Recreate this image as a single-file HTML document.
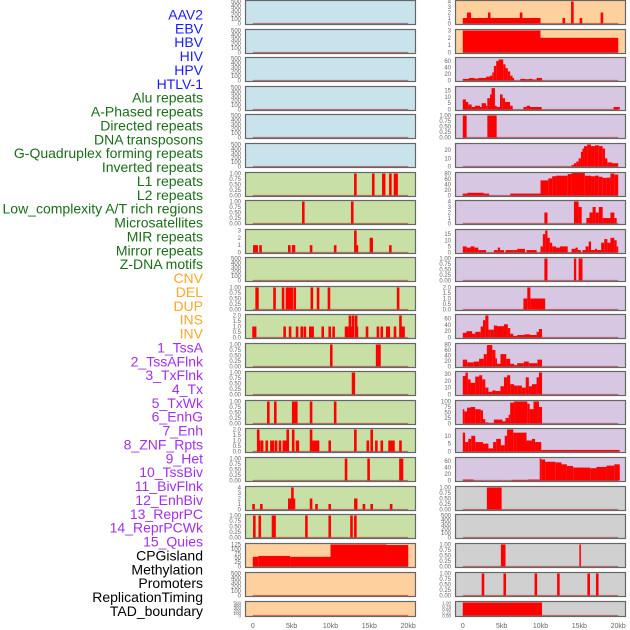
<!DOCTYPE html>
<html><head><meta charset="utf-8"><style>
html,body{margin:0;padding:0;background:#fff;width:630px;height:630px;overflow:hidden}
svg{display:block}
</style></head><body>
<svg id="chart" width="630" height="630" xmlns="http://www.w3.org/2000/svg" font-family="Liberation Sans, sans-serif"></svg>
<script>
// ---- labels ----
const trackLabels = ["AAV2","EBV","HBV","HIV","HPV","HTLV-1","Alu repeats","A-Phased repeats","Directed repeats","DNA transposons","G-Quadruplex forming repeats","Inverted repeats","L1 repeats","L2 repeats","Low_complexity A/T rich regions","Microsatellites","MIR repeats","Mirror repeats","Z-DNA motifs","CNV","DEL","DUP","INS","INV","1_TssA","2_TssAFlnk","3_TxFlnk","4_Tx","5_TxWk","6_EnhG","7_Enh","8_ZNF_Rpts","9_Het","10_TssBiv","11_BivFlnk","12_EnhBiv","13_ReprPC","14_ReprPCWk","15_Quies","CPGisland","Methylation","Promoters","ReplicationTiming","TAD_boundary"];
const labelGroups = [6,13,5,15,5];
const xTickValues = [0,5,10,15,20];
const xTickLabels = ["0","5kb","10kb","15kb","20kb"];

// ---- y tick sets ----
const T500 = [0,100,200,300,400,500];
const T1 = [0,0.25,0.5,0.75,1];
const T2 = [0,0.5,1,1.5,2];
const T3 = [0,1,2,3];
const T4 = [0,1,2,3,4];

// ---- left column data (spikes: [kb, value]; steps: [startKb, endKb, value]) ----
const L06 = [[13.2,1],[15.5,1],[16.8,1],[16.9,1],[17.7,1],[18.3,1],[18.5,1]];
const L07 = [[6.5,1],[12.8,1]];
const L08 = [[0.2,1],[0.5,1],[1.0,1],[4.7,1],[5.2,1],[5.3,1],[7.5,1],[10.6,1],[13.2,3],[13.4,1],[15.2,2],[15.3,2],[17.7,1]];
const L10 = [[0.5,1],[0.6,1],[2.8,1],[3.9,1],[4.4,1],[4.6,1],[4.8,1],[5.0,1],[5.4,1],[7.6,1],[8.4,1],[9.8,1],[18.7,1]];
const L11 = [[0.1,1],[0.3,1],[4.1,1],[4.8,1],[5.7,1],[6.3,1],[6.7,1],[7.4,1],[7.7,1],[9.0,1],[9.9,1],[10.4,1],[12.0,1],[12.2,1],[12.5,2],[12.7,1],[12.9,2],[13.3,2],[13.4,1],[14.7,1],[16.1,1],[16.6,1],[17.3,1],[17.5,1],[18.3,1],[19.0,2],[19.2,1],[19.4,1]];
const L12 = [[10.1,1],[16.0,1],[16.3,1]];
const L13 = [[12.9,1],[13.0,1]];
const L14 = [[2.0,1],[2.9,1],[5.2,1],[5.4,1],[5.6,1],[7.5,1],[10.6,1]];
const L15 = [[0.7,2],[0.85,1],[1.2,1],[1.8,1],[2.4,1],[2.6,1],[3.0,1],[3.5,1],[4.0,1],[4.2,1],[4.4,1],[4.5,2],[5.2,2],[5.7,1],[5.8,1],[7.5,2],[7.8,1],[8.1,1],[8.4,1],[9.9,1],[13.2,2],[14.8,1],[15.3,2],[15.9,1],[16.6,1],[17.6,1],[17.9,1],[18.1,1],[19.0,1]];
const L16 = [[12.0,1],[14.9,1],[19.0,1],[19.2,1]];
const L17 = [[0.1,1],[1.1,1],[4.7,2],[4.9,2],[5.1,4],[5.3,2],[7.5,2],[8.2,1],[9.9,1],[13.2,2],[13.3,2],[14.3,1],[15.3,1],[17.8,1]];
const L18 = [[0.2,1],[0.9,1],[2.6,1],[2.8,1],[6.9,1],[9.9,1],[12.7,1],[13.2,1]];
const L19 = [[0,0.7,55],[0.7,4.8,60],[4.8,10,55],[10,17.2,125],[17.2,20,122]];

// ---- right column data ----
const R00s = [[0,10,1]];
const R00 = [[0.7,2],[0.9,2],[3.4,2],[7.5,2],[13.0,1],[14.1,4],[15.2,1],[17.9,2]];
const R01 = [[0,10,3],[10,20,2]];
const R02 = [[0,0.8,5],[0.8,1.5,8],[1.5,2,6],[2,3,8],[3,3.5,12],[3.5,3.8,15],[3.8,4,25],[4,4.3,45],[4.3,4.6,60],[4.6,5.2,65],[5.2,5.5,50],[5.5,5.8,38],[5.8,6.1,28],[6.1,6.4,15],[6.4,6.6,8],[7.4,8,5],[8,8.5,4],[8.5,9,5],[9,9.5,3],[9.5,10.2,8]];
const R03 = [[0,0.41,8],[0.41,0.71,6],[0.71,1.14,4],[1.14,1.57,2],[1.57,2.21,3],[2.21,2.43,2],[2.43,2.98,5],[2.98,3.16,3],[3.16,3.5,9],[3.5,3.7,12],[3.7,4.14,17],[4.14,4.36,3],[4.36,4.79,2],[4.79,5.13,12],[5.13,5.43,9],[5.43,6.08,6],[6.08,6.42,3],[7.8,8.22,2],[8.22,8.65,3],[8.65,10.15,2],[19.4,20.2,2]];
const R04 = [[0,0.5,1],[3.16,4.36,1]];
const R05 = [[14.0,14.3,2],[14.3,14.6,4],[14.6,14.9,6],[14.9,15.2,10],[15.2,15.4,18],[15.4,15.6,22],[15.6,16,25],[16,16.5,27],[16.5,17,25],[17,17.5,26],[17.5,18,25],[18,18.3,22],[18.3,18.6,10],[18.6,19.2,5],[19.2,20,4]];
const R06 = [[0,0.6,7],[0.6,2.7,10],[2.7,3.4,7],[6.1,10,7],[10,11,55],[11,11.5,62],[11.5,12,70],[12,13.5,72],[13.5,14,78],[14,15.7,82],[15.7,16.5,72],[16.5,17,70],[17,17.5,72],[17.5,18,68],[18,18.5,64],[18.5,19,65],[19,19.5,80],[19.5,20,76]];
const R07 = [[10.5,10.9,2],[14.3,14.9,4],[14.9,15.3,3],[15.9,16.3,1],[16.3,16.7,2],[16.7,17.1,3],[17.1,17.5,2],[17.5,18,3],[18,19,1],[19,19.5,2],[19.5,19.8,1]];
const R08 = [[0,0.5,5],[0.5,1,4],[1,1.5,5],[1.5,2,4],[2,3,2],[4,4.5,2],[4.5,4.8,4],[4.8,5.3,2],[5.5,6.5,2],[6.5,7,2],[7,8,3],[8.2,9.5,2],[10,10.3,5],[10.3,10.6,15],[10.6,10.9,18],[10.9,11.2,12],[11.2,11.5,8],[11.5,12,5],[12,12.5,4],[12.5,13.5,5],[14,14.5,3],[14.5,14.8,4],[14.8,15.2,2],[15.4,15.8,2],[15.8,16.2,5],[16.2,16.5,9],[16.5,17,2],[17,17.3,3],[17.3,17.8,2],[17.8,18.2,8],[18.2,18.6,11],[18.6,19,8],[19,19.5,12],[19.5,19.8,10],[19.8,20,5]];
const R09 = [[10.5,10.9,1],[14.3,14.6,1],[14.9,15.4,1]];
const R10 = [[7.8,8.3,1],[8.3,8.7,2],[8.7,10.6,1]];
const R11 = [[0,0.47,15],[0.47,1.2,20],[1.2,1.6,12],[1.6,2.3,18],[2.3,2.6,35],[2.6,2.9,55],[2.9,3.3,70],[3.3,3.6,25],[3.6,4,25],[4,4.4,38],[4.4,5.3,36],[5.3,5.8,42],[5.8,6.1,30],[6.1,6.5,12],[6.5,7,5],[7,7.9,8],[7.9,8.7,10],[8.7,9.5,8],[9.5,9.8,18],[9.8,10.2,27]];
const R12 = [[0,0.56,25],[0.56,1.4,15],[1.4,2.1,18],[2.1,2.7,28],[2.7,3.1,45],[3.1,3.8,78],[3.8,4.2,60],[4.2,4.4,30],[4.4,4.85,10],[4.85,5.6,45],[5.6,6.1,28],[6.1,6.6,10],[6.6,7,5],[7,7.85,12],[7.85,8.5,18],[8.5,9.6,12],[9.6,10.2,25]];
const R13 = [[0,0.35,27],[0.35,0.65,32],[0.65,1,22],[1,1.6,17],[1.6,2.1,26],[2.1,2.5,28],[2.5,2.9,22],[2.9,3.3,10],[3.3,3.8,4],[3.8,4.2,6],[4.2,4.85,5],[4.85,5.3,12],[5.3,5.7,25],[5.7,6.1,28],[6.1,6.6,15],[6.6,7,13],[7,7.6,13],[7.6,8.1,10],[8.1,8.5,25],[8.5,8.9,12],[8.9,9.5,15],[9.5,9.8,25],[9.8,10.2,32]];
const R14 = [[0,0.2,65],[0.2,0.55,55],[0.55,1,72],[1,1.6,75],[1.6,2.3,65],[2.3,2.6,60],[2.6,2.9,20],[2.9,3.3,5],[3.3,4,3],[4,5.1,18],[5.1,5.5,10],[5.5,5.9,25],[5.9,6.1,40],[6.1,6.6,95],[6.6,8.3,100],[8.3,8.6,90],[8.6,9.1,65],[9.1,9.8,100],[9.8,10.2,75]];
const R15 = [[0,0.3,12],[0.3,0.7,6],[0.7,1.1,8],[1.1,1.6,10],[1.6,2.6,6],[2.6,3.3,5],[3.3,3.9,2],[3.9,4.3,6],[4.3,4.9,8],[4.9,5.4,4],[5.4,5.7,10],[5.7,6.5,14],[6.5,6.9,12],[6.9,8.2,12],[8.2,8.9,7],[8.9,9.3,8],[9.3,10.1,6],[10.1,20.2,1]];
const R16 = [[0,1.4,3],[6.3,8.4,2],[8.4,9.9,3],[9.9,10.1,68],[10.1,10.6,65],[10.6,11.9,58],[11.9,12.7,56],[12.7,13.4,50],[13.4,14.2,45],[14.2,16.4,40],[16.4,17.2,38],[17.2,18.5,42],[18.5,19.5,46],[19.5,20.2,50]];
const R17 = [[3.1,5.0,1]];
const R19 = [[4.9,5.5,1],[15.0,15.2,1]];
const R20 = [[2.6,1],[5.4,1],[9.4,1],[12.3,1],[16.2,1],[17.3,1]];
const R21 = [[0,10.2,1]];

const leftPanels = [
 {bg:"#c9e3ec",t:T500},{bg:"#c9e3ec",t:T500},{bg:"#c9e3ec",t:T500},{bg:"#c9e3ec",t:T500},{bg:"#c9e3ec",t:T500},{bg:"#c9e3ec",t:T500},
 {bg:"#c8e0a6",t:T1,sp:L06},{bg:"#c8e0a6",t:T1,sp:L07},{bg:"#c8e0a6",t:T3,sp:L08},{bg:"#c8e0a6",t:T500},
 {bg:"#c8e0a6",t:T1,sp:L10},{bg:"#c8e0a6",t:T2,sp:L11},{bg:"#c8e0a6",t:T1,sp:L12},{bg:"#c8e0a6",t:T1,sp:L13},
 {bg:"#c8e0a6",t:T1,sp:L14},{bg:"#c8e0a6",t:T2,sp:L15},{bg:"#c8e0a6",t:T1,sp:L16},{bg:"#c8e0a6",t:T4,sp:L17},
 {bg:"#c8e0a6",t:T1,sp:L18},{bg:"#fdd09e",t:[0,25,50,75,100,125],st:L19},{bg:"#fdd09e",t:T500},{bg:"#fdd09e",t:T500}
];
const rightPanels = [
 {bg:"#fdd09e",t:T4,st:R00s,sp:R00},{bg:"#fdd09e",t:T3,st:R01},
 {bg:"#d7c7e2",t:[0,20,40,60],max:68,st:R02},{bg:"#d7c7e2",t:[0,5,10,15],max:17.5,st:R03},
 {bg:"#d7c7e2",t:T1,st:R04},{bg:"#d7c7e2",t:[0,10,20],max:27,st:R05},
 {bg:"#d7c7e2",t:[0,20,40,60,80],st:R06},{bg:"#d7c7e2",t:T4,st:R07},
 {bg:"#d7c7e2",t:[0,5,10,15],max:18,st:R08},{bg:"#d7c7e2",t:T1,st:R09},
 {bg:"#d7c7e2",t:T2,st:R10},{bg:"#d7c7e2",t:[0,20,40,60],max:70,st:R11},
 {bg:"#d7c7e2",t:[0,20,40,60,80],st:R12},{bg:"#d7c7e2",t:[0,10,20,30],max:32,st:R13},
 {bg:"#d7c7e2",t:[0,25,50,75,100],st:R14},{bg:"#d7c7e2",t:[0,5,10],max:14,st:R15},
 {bg:"#d7c7e2",t:[0,20,40,60],max:68,st:R16},{bg:"#d0d0d0",t:T1,st:R17},
 {bg:"#d0d0d0",t:T500},{bg:"#d0d0d0",t:T1,st:R19},{bg:"#d0d0d0",t:T1,sp:R20},{bg:"#d0d0d0",t:T1,st:R21}
];

const NS="http://www.w3.org/2000/svg";
const svg=document.getElementById("chart");
function mk(tag,attrs,parent){const e=document.createElementNS(NS,tag);for(const k in attrs)e.setAttribute(k,attrs[k]);(parent||svg).appendChild(e);return e;}

// labels
const groupColors=["#1a1aff","#1a6e1a","#ffa726","#a030f0","#000000"];
let gi=0,gc=0;
trackLabels.forEach((lab,i)=>{
  if(gc>=labelGroups[gi]){gi++;gc=0;}
  gc++;
  const t=mk("text",{x:203,y:19.5+i*13.87,"text-anchor":"end","font-size":"14",fill:groupColors[gi]});
  t.textContent=lab;
  
  
});

const tops=[0,29,57,86,114,143,172,200,229,257,286,314,343,371,400,428,457,486,514,543,572,601];
const heights=[25,25,25,25,25,25,25,25,25,25,25,25,25,25,25,25,25,25,25,25,25,16];

function fmt(v,ticks){
  const step=ticks[1]-ticks[0];
  if(step<0.5) return v.toFixed(2);
  if(step<1) return v.toFixed(1);
  return String(v);
}

function drawCol(panels,x0,x1){
  const xs=kb=>x0+(kb+1)*(x1-x0)/22;
  panels.forEach((p,i)=>{
    const top=tops[i],h=heights[i],bot=top+h;
    const ymax=p.max||p.t[p.t.length-1];
    const ys=v=>(bot-1.5)-(v/ymax)*(h-3);
    const g=mk("g",{});
    
    
    mk("rect",{x:x0,y:top,width:x1-x0,height:h,fill:p.bg},g);
    (p.st||[]).forEach(d=>{
      const r=mk("rect",{x:xs(d[0]),y:ys(d[2]),width:Math.max(0.8,xs(d[1])-xs(d[0])),height:ys(0)-ys(d[2]),fill:"#ff0000"},g);
      
      
    });
    (p.sp||[]).forEach(d=>{
      const r=mk("rect",{x:xs(d[0])-1.3,y:ys(d[1]),width:2.6,height:ys(0)-ys(d[1]),fill:"#ff0000"},g);
      
      
    });
    mk("line",{x1:xs(0),x2:xs(20),y1:ys(0),y2:ys(0),stroke:"rgba(170,30,30,0.55)","stroke-width":1.3},g);
    mk("rect",{x:x0+0.5,y:top+0.5,width:x1-x0-1,height:h-1,fill:"none",stroke:"#666","stroke-width":1.2},g);
    const fs=h<20?4.5:6;
    p.t.forEach(v=>{
      const tt=mk("text",{x:x0-4,y:ys(v)+2,"text-anchor":"end","font-size":fs,fill:"#666"},g);
      tt.textContent=fmt(v,p.t);
    });
  });
  xTickValues.forEach((v,k)=>{
    const t=mk("text",{x:xs(v),y:628,"text-anchor":"middle","font-size":"7",fill:"#666"});
    t.textContent=xTickLabels[k];
    
    
  });
}
drawCol(leftPanels,245,416);
drawCol(rightPanels,455,626);
</script>
</body></html>
